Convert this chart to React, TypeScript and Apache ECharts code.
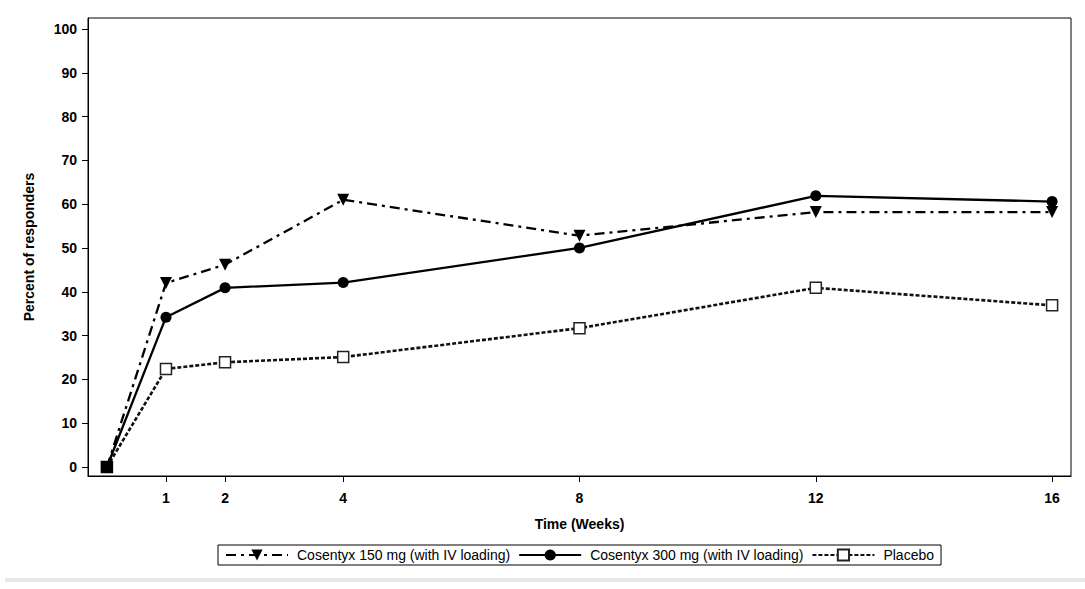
import React, { useEffect, useRef } from "react";
import * as echarts from "echarts";

const weeks = [0, 1, 2, 4, 8, 12, 16];
const xTickValues = [1, 2, 4, 8, 12, 16];
const yTickValues = [0, 10, 20, 30, 40, 50, 60, 70, 80, 90, 100];
const cos150 = [0, 42.0, 46.2, 61.0, 52.8, 58.2, 58.2];
const cos300 = [0, 34.2, 40.9, 42.1, 50.0, 61.9, 60.6];
const placebo = [0, 22.4, 23.9, 25.1, 31.7, 40.9, 36.9];
const names = [
  "Cosentyx 150 mg (with IV loading)",
  "Cosentyx 300 mg (with IV loading)",
  "Placebo",
];

const FONT = "Arial, 'Liberation Sans', sans-serif";

function pairs(ys: number[]) {
  return weeks.map((w, i) => [w, ys[i]]);
}

export default function App() {
  const ref = useRef<HTMLDivElement>(null);
  useEffect(() => {
    if (!ref.current) return;
    const chart = echarts.init(ref.current, null, { renderer: "svg" });
    const placeboData = pairs(placebo).map((p, i) =>
      i === 0 ? { value: p, itemStyle: { color: "#000", borderColor: "#000" } } : p
    );
    chart.setOption({
      animation: false,
      backgroundColor: "#ffffff",
      grid: {
        left: 88,
        top: 18,
        right: 14,
        bottom: 113,
        show: true,
        borderColor: "#000",
        borderWidth: 1,
        backgroundColor: "transparent",
      },
      xAxis: {
        type: "value",
        min: -0.32,
        max: 16.32,
        name: "Time (Weeks)",
        nameLocation: "middle",
        nameGap: 41,
        nameTextStyle: { fontFamily: FONT, fontWeight: "bold", fontSize: 14, color: "#000" },
        axisLine: { show: true, onZero: false, lineStyle: { color: "#000", width: 1 } },
        axisTick: { show: true, length: 6, customValues: xTickValues, lineStyle: { color: "#000" } },
        axisLabel: {
          customValues: xTickValues,
          margin: 15,
          fontFamily: FONT,
          fontWeight: "bold",
          fontSize: 14,
          color: "#000",
        },
        splitLine: { show: false },
      },
      yAxis: {
        type: "value",
        min: -2.05,
        max: 102.5,
        name: "Percent of responders",
        nameLocation: "middle",
        nameGap: 52,
        nameRotate: 90,
        nameTextStyle: { fontFamily: FONT, fontWeight: "bold", fontSize: 14, color: "#000" },
        axisLine: { show: true, onZero: false, lineStyle: { color: "#000", width: 1 } },
        axisTick: { show: true, length: 6, customValues: yTickValues, lineStyle: { color: "#000" } },
        axisLabel: {
          customValues: yTickValues,
          margin: 11,
          fontFamily: FONT,
          fontWeight: "bold",
          fontSize: 14,
          color: "#000",
        },
        splitLine: { show: false },
      },
      legend: {
        data: names,
        left: 218,
        top: 545,
        orient: "horizontal",
        itemWidth: 62,
        itemHeight: 14,
        itemGap: 8,
        padding: [3, 7, 3, 7],
        borderColor: "#000",
        borderWidth: 1,
        textStyle: {
          fontFamily: FONT,
          fontSize: 14,
          color: "#000",
          padding: [0, 0, 0, 4],
        },
      },
      graphic: [
        {
          type: "rect",
          shape: { x: 5, y: 578, width: 1080, height: 4 },
          style: { fill: "#e8e8e8" },
          silent: true,
        },
      ],
      series: [
        {
          name: names[2],
          type: "line",
          data: placeboData,
          symbol: "rect",
          symbolSize: 11,
          lineStyle: { color: "#111", width: 2.6, type: [4, 2] },
          itemStyle: { color: "#ffffff", borderColor: "#222", borderWidth: 1.5 },
          z: 2,
        },
        {
          name: names[1],
          type: "line",
          data: pairs(cos300),
          symbol: "circle",
          symbolSize: 11,
          lineStyle: { color: "#000", width: 2.3 },
          itemStyle: { color: "#000", borderColor: "#000", borderWidth: 0 },
          z: 3,
        },
        {
          name: names[0],
          type: "line",
          data: pairs(cos150),
          symbol: "triangle",
          symbolRotate: 180,
          symbolSize: 12,
          lineStyle: { color: "#000", width: 2.3, type: [10, 5, 3, 5] },
          itemStyle: { color: "#000", borderColor: "#000", borderWidth: 0 },
          z: 4,
        },
      ],
    });
    return () => chart.dispose();
  }, []);
  return (
    <div
      ref={ref}
      style={{ position: "fixed", left: 0, top: 0, width: 1085, height: 589 }}
    />
  );
}
